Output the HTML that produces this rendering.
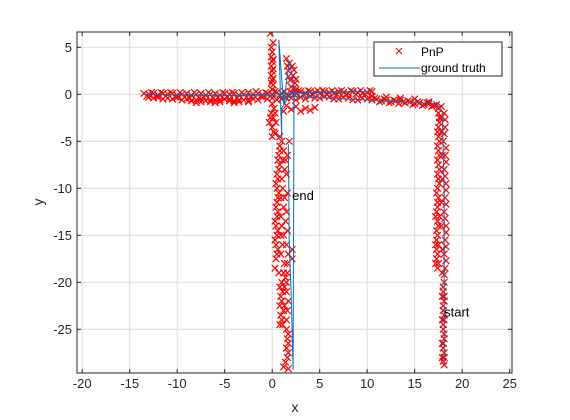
<!DOCTYPE html>
<html><head><meta charset="utf-8"><style>
body{margin:0;background:#fff;}
svg{display:block;font-family:"Liberation Sans",sans-serif;}
</style></head><body>
<svg id="c" width="570" height="420" viewBox="0 0 570 420">
<rect width="570" height="420" fill="#fff"/>
<g id="grid"></g>
<g id="marks"></g>
<g id="axes"></g>
</svg>
<script>
const xTicks=[-20,-15,-10,-5,0,5,10,15,20,25];
const yTicks=[5,0,-5,-10,-15,-20,-25];
const groundTruth=[[18.1,-28.8],[18.1,-10],[17.9,-1.8],[17.3,-1.0],[8,-0.5],[1,-0.2],[-13.5,0],[-5,-0.15],[1,0.1],[10.5,0.3],[2,0.2],[1,-1.5],[1,-4.8],[0.7,5.8],[1.2,-1],[1.8,3.5],[2.3,1],[2.2,-29.3],[2,-21.5],[1.8,-16],[1.7,-5.3]];
const pnpTop=[[-13.5,0.1],[-13.2,-0.2],[-13,0],[-12.7,0.2],[-12.5,0.1],[-12.2,-0.2],[-12,-0.1],[-11.7,0.2],[-11.5,0.1],[-11.2,-0.2],[-11,0],[-10.7,0.2],[-10.5,0.1],[-10.2,-0.3],[-10,-0.1],[-9.7,0.2],[-9.5,0],[-9.2,-0.3],[-9,0.1],[-8.7,-0.4],[-8.5,-0.1],[-8.2,0.2],[-8,0],[-7.7,-0.4],[-7.5,0.1],[-7.2,-0.3],[-7,-0.1],[-6.7,0.2],[-6.5,0],[-6.2,-0.4],[-6,0.1],[-5.7,-0.3],[-5.5,-0.1],[-5.2,0.2],[-5,0.1],[-4.7,-0.3],[-4.5,0],[-4.2,0.2],[-4,0.1],[-3.7,-0.4],[-3.5,-0.1],[-3.2,0.2],[-3,0],[-2.7,-0.3],[-2.5,0.2],[-2.2,-0.2],[-2,0],[-1.7,0.3],[-1.5,0.1],[-1.2,-0.2],[-1,-0.1],[-0.7,0.2],[-0.5,0.1],[-0.2,-0.2],[0,0],[0.3,0.3],[0.5,0.2],[0.8,-0.1],[1,0.1],[1.3,0.3],[1.5,0],[1.8,-0.2],[2,0.2],[2.3,0],[2.5,0.1],[2.8,0.4],[3,0.3],[3.3,0],[3.5,0.1],[3.8,0.4],[4,0.3],[4.3,0],[4.5,0.2],[4.8,0.4],[5,0.1],[5.3,0.4],[5.5,0.3],[5.8,0],[6,0.2],[6.3,0.4],[6.5,0.1],[6.8,0],[7,0.3],[7.3,0.4],[7.5,0.2],[7.8,0],[8,0.1],[8.3,0.4],[8.5,0.3],[8.8,0],[9,0.2],[9.3,0.4],[9.5,0.1],[9.8,0],[10,0.2],[10.3,0.4],[10.5,0.3],
[-13,-0.3],[-12.5,-0.4],[-12,-0.3],[-11.5,-0.5],[-11,-0.4],[-10.5,-0.5],[-10,-0.3],[-9.5,-0.6],[-9,-0.5],[-8.5,-0.7],[-8,-0.6],[-7.5,-0.8],[-7,-0.7],[-6.5,-0.6],[-6,-0.6],[-5.5,-0.8],[-5,-0.5],[-4.5,-0.7],[-4,-0.7],[-3.5,-0.6],[-3,-0.6],[-2.5,-0.8],[-2,-0.5],[-1.5,-0.6],[-1,-0.3],[-0.5,-0.5],[0,-0.4],[0.5,-0.6],[1,-0.5],[1.5,-0.4],[2,-0.4],[2.5,-0.6],[3,-0.3],[3.5,-0.5],[4,-0.2],[4.5,-0.4],[5,-0.4],[5.5,-0.2],[6,-0.3],[6.5,-0.5],[7,-0.5],[7.5,-0.3],[8,-0.4],[8.5,-0.6],[9,-0.6],[9.5,-0.4],[10,-0.5],
[-9.5,-0.6],[-8.5,-0.7],[-7.5,-0.5],[-6.5,-0.8],[-5.5,-0.6],[-4.5,-0.5],[-3.5,-0.8],[-2.5,-0.7],[-4,-0.9],[-6,-0.9],[-8,-0.9]];
const pnpRight=[[10.5,-0.6],[10.8,-0.4],[11,-0.5],[11.3,-0.8],[11.5,-0.7],[11.8,-0.5],[12,-0.6],[12.3,-0.9],[12.5,-0.8],[12.8,-0.6],[13,-0.7],[13.3,-1],[13.5,-0.6],[13.8,-0.8],[14,-0.9],[14.3,-0.7],[14.5,-0.8],[14.8,-1.1],[15,-1],[15.3,-0.8],[15.5,-0.9],[15.8,-1.2],[16,-1.1],[16.3,-0.9],[16.5,-1],[16.8,-1.3],[17,-1.2],[17.3,-1.1],[17.5,-1.5],[17.8,-1.3],[10.5,-0.2],[12,-0.3],[13.5,-0.4],[15,-0.5],[16.5,-0.8],
[17.5,-2],[17.6,-2.5],[17.6,-3],[17.5,-3.5],[17.4,-4],[17.5,-4.5],[17.6,-5],[17.4,-5.5],[17.5,-6],[17.6,-6.5],[17.4,-7],[17.5,-7.5],[17.6,-8],[17.4,-8.5],[17.5,-9],[17.6,-9.5],[17.4,-10],[17.3,-10.5],[17.5,-11],[17.4,-11.5],[17.4,-12],[17.3,-12.5],[17.6,-13],[17.4,-13.5],[17.5,-14],[17.3,-14.5],[17.4,-15],[17.3,-15.5],[17.5,-16],[17.3,-16.5],[17.4,-17],[17.3,-17.5],[17.5,-18],[17.4,-18.5],[17.2,-13],[17.2,-16],[17.2,-18],
[18.1,-2],[18.2,-2.7],[18.2,-3.5],[18.1,-4.2],[18,-5],[18.3,-5.7],[18.2,-6.5],[18.3,-7.2],[18.1,-8],[18.2,-8.7],[18.3,-9.5],[18.3,-10.2],[18.2,-11],[18.3,-11.7],[18.1,-12.5],[18.2,-13.2],[18.3,-14],[18.3,-14.7],[18.2,-15.5],[18.3,-16.2],[18.1,-17],[18.3,-17.7],[18.2,-18.5],[18.1,-19.2],[18.1,-20],[18,-20.5],[18,-21],[18.1,-21.5],[18.1,-22],[18,-22.5],[18,-23],[18.1,-23.5],[18.1,-24],[18,-24.5],[18,-25],[18.1,-25.5],[18.1,-26],[18,-26.5],[18,-27],[18.1,-27.5],[18.1,-28],[18,-28.4],[18.1,-28.8],[17.8,-4],[17.9,-6.5],[17.9,-9],[17.8,-11.5],[17.8,-14],[17.9,-16.5],[17.9,-19],[17.9,-21.5],[17.9,-24],[17.9,-26.5],[17.8,-2.5],[17.9,-28]];
const pnpCenter=[[-0.2,6.5],[-0.1,5],[0.1,5.5],[0,4.5],[-0.1,4],[0.1,3.7],[0,3.5],[-0.1,3],[0.1,2.7],[0,2.5],[-0.1,2],[0.1,1.7],[0,1.5],[0.1,1],[-0.1,1.2],[0,0.5],[1.5,3.8],[1.8,3.3],[2.1,3],[1.7,2.5],[2.2,2],[1.9,1.5],[2.4,1.2],[2,0.8],[2.5,0.5],[1.6,3],[2.3,2.6],[2.5,1.6],[1.7,1.9],[2.2,0.6],
[0,-1],[0.2,-1.5],[-0.1,-2],[0.1,-2.5],[-0.3,-3],[0,-3.5],[0.2,-4],[0,-4.5],[-0.2,-2.5],[0.3,-2],[0.4,-3],[0.3,-4.2],[1.5,-1.2],[2.5,-1.3],[3.5,-1.5],[4.5,-1.4],[3,-1.8],[4,-1.7],[2,-1.6],[1.2,-1.8],
[0.8,-5.5],[0.8,-6],[0.7,-6.5],[0.6,-7],[0.8,-7.5],[0.7,-8],[0.5,-8.5],[0.6,-9],[0.4,-9.5],[0.5,-10],[0.7,-10.5],[0.6,-11],[0.5,-11.5],[0.4,-12],[0.6,-12.5],[0.5,-13],[0.3,-13.5],[0.4,-14],[0.6,-14.5],[0.5,-15],[0.3,-15.5],[0.4,-16],[0.6,-16.5],[0.5,-17],[0.4,-17.5],[0.3,-18.5],
[1.2,-6],[1.1,-7],[1.3,-8],[1,-9],[1.1,-10],[1.3,-11],[1.2,-12],[0.9,-13],[1,-14],[1.2,-15],[1.1,-16],[0.9,-17],[1.3,-18],[1.2,-19],[1.4,-19.5],[1,-20],[1.3,-20.5],[1.1,-21],[0.9,-21.5],[1,-22],[1.3,-22.5],[1.2,-23],[0.9,-23.5],[1,-24],[1.1,-24.5],[1.5,-25],[1.7,-25.5],[1.6,-26],[1.7,-26.5],[1.5,-27],[1.7,-27.5],[1.6,-28],[1.4,-28.5],[1.2,-29],[1.7,-29.2],[1.5,-20],[1.6,-18],[2.1,-16.5],[2.1,-17.5],[1.7,-22],[1.8,-5],[1,-5],[0.8,-4.5],
[1.6,-6.5],[1.5,-8.5],[1.6,-10.5],[1.5,-12.5],[1.6,-14.5],[1.5,-16],[1.7,-17],[1.6,-19],[1.5,-21],[1.6,-23],[1.5,-24],[0.7,-19],[0.8,-20.5],[0.8,-22.5],[0.8,-24.5],[0.9,-11],[0.9,-15],[1.4,-7],[1.4,-13.5]];
const X0=272.2,XU=9.5,Y0=94.3,YU=9.4;
const L=77,R=512,T=32,B=373;
const sx=v=>X0+v*XU, sy=v=>Y0-v*YU;
const NS="http://www.w3.org/2000/svg";
function mk(t,a,p){const e=document.createElementNS(NS,t);for(const k in a)e.setAttribute(k,a[k]);p.appendChild(e);return e;}
const grid=document.getElementById('grid'),axes=document.getElementById('axes'),marks=document.getElementById('marks');
xTicks.forEach(v=>{const l=mk('line',{x1:sx(v),x2:sx(v),y1:T,y2:B,stroke:'#dcdcdc','stroke-width':1},grid);
});
yTicks.forEach(v=>{const l=mk('line',{x1:L,x2:R,y1:sy(v),y2:sy(v),stroke:'#dcdcdc','stroke-width':1},grid);
});
const cp=mk('clipPath',{id:'clip'},document.getElementById('c'));mk('rect',{x:L,y:T,width:R-L,height:B-T},cp);
marks.setAttribute('clip-path','url(#clip)');
const pg=mk('g',{},marks);

[...pnpTop,...pnpRight,...pnpCenter].forEach(p=>{const x=sx(p[0]),y=sy(p[1]),s=3.3;
const m=mk('path',{d:`M${x-s},${y-s}L${x+s},${y+s}M${x-s},${y+s}L${x+s},${y-s}`,stroke:'#ff0000','stroke-width':1.2,fill:'none'},pg);
});
const gt=mk('polyline',{points:groundTruth.map(p=>sx(p[0])+','+sy(p[1])).join(' '),fill:'none',stroke:'#0072bd','stroke-width':1},marks);

const t1=mk('text',{x:sx(2.1),y:sy(-10.8)+4,'font-size':13,fill:'#000'},marks);t1.textContent='end';

const t2=mk('text',{x:sx(18.1),y:sy(-23.2)+4,'font-size':13,fill:'#000'},marks);t2.textContent='start';

const box=mk('rect',{x:L,y:T,width:R-L,height:B-T,fill:'none',stroke:'#262626','stroke-width':1},axes);

xTicks.forEach(v=>{mk('line',{x1:sx(v),x2:sx(v),y1:B,y2:B-4,stroke:'#262626'},axes);mk('line',{x1:sx(v),x2:sx(v),y1:T,y2:T+4,stroke:'#262626'},axes);
const t=mk('text',{x:sx(v),y:B+15,'font-size':13,'text-anchor':'middle',fill:'#262626'},axes);t.textContent=v;
});
yTicks.forEach(v=>{mk('line',{x1:L,x2:L+4,y1:sy(v),y2:sy(v),stroke:'#262626'},axes);mk('line',{x1:R,x2:R-4,y1:sy(v),y2:sy(v),stroke:'#262626'},axes);
const t=mk('text',{x:L-5,y:sy(v)+4.5,'font-size':13,'text-anchor':'end',fill:'#262626'},axes);t.textContent=v;
});
const xt=mk('text',{x:295,y:412,'font-size':14,'text-anchor':'middle',fill:'#262626'},axes);xt.textContent='x';

const yt=mk('text',{x:43,y:202,'font-size':14,'text-anchor':'middle',fill:'#262626',transform:'rotate(-90 43 202)'},axes);yt.textContent='y';

const lg=mk('g',{},axes);
mk('rect',{x:374,y:42,width:128,height:34,fill:'#fff',stroke:'#262626','stroke-width':1},lg);
mk('path',{d:'M396,48L402,54M396,54L402,48',stroke:'#ff0000','stroke-width':1},lg);
mk('line',{x1:379,x2:420,y1:68,y2:68,stroke:'#0072bd','stroke-width':1},lg);
const l1=mk('text',{x:421,y:56,'font-size':12,fill:'#000'},lg);l1.textContent='PnP';

const l2=mk('text',{x:421,y:72,'font-size':12,fill:'#000'},lg);l2.textContent='ground truth';

</script>
</body></html>
